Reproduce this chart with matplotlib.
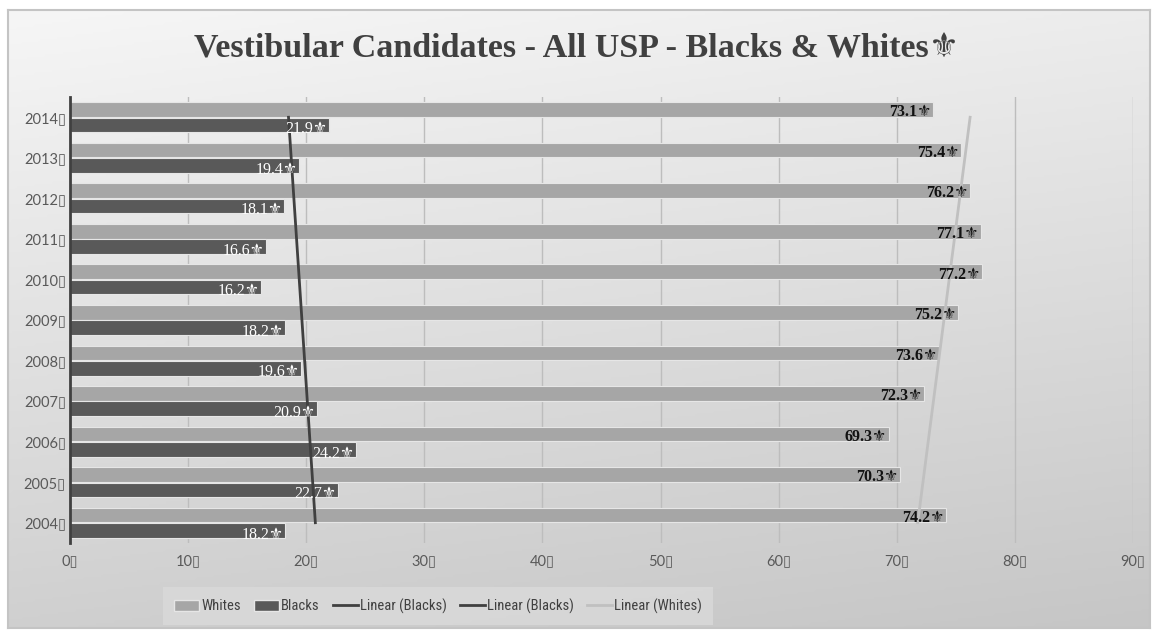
import numpy as np
import matplotlib.pyplot as plt
from matplotlib.colors import LinearSegmentedColormap
from matplotlib.patches import Patch
from matplotlib.lines import Line2D

years = ["2004", "2005", "2006", "2007", "2008", "2009", "2010", "2011", "2012", "2013", "2014"]
whites = [74.2, 70.3, 69.3, 72.3, 73.6, 75.2, 77.2, 77.1, 76.2, 75.4, 73.1]
blacks = [18.2, 22.7, 24.2, 20.9, 19.6, 18.2, 16.2, 16.6, 18.1, 19.4, 21.9]
x_ticks = [0, 10, 20, 30, 40, 50, 60, 70, 80, 90]

BOX = "\u25af"
FLEUR = "\u269c"
SERIF = ["Liberation Serif", "DejaVu Serif", "DejaVu Sans"]
SANS = ["Lato", "DejaVu Sans"]
NARROW = ["Liberation Sans Narrow", "Roboto Condensed", "Liberation Sans"]

W, H = 1153, 635
fig = plt.figure(figsize=(W / 100, H / 100), dpi=100)
fig.patch.set_facecolor("white")

# chart area with a soft grey gradient and thin border
bg = fig.add_axes([8 / W, 1 - 628 / H, 1142 / W, 618 / H])
grad = np.linspace(0, 1, 256).reshape(-1, 1) * 0.8 + np.linspace(0, 1, 256).reshape(1, -1) * 0.2
cmap = LinearSegmentedColormap.from_list("g", ["#f6f6f6", "#c6c6c6"])
bg.imshow(grad, cmap=cmap, aspect="auto", extent=[0, 1, 1, 0], origin="upper")
bg.set_xlim(0, 1)
bg.set_ylim(1, 0)
bg.set_xticks([])
bg.set_yticks([])
for s in bg.spines.values():
    s.set_color("#c4c4c4")
    s.set_linewidth(1.5)

ax = fig.add_axes([70 / W, 1 - 543 / H, 1063 / W, 446 / H])
ax.patch.set_alpha(0)
pos = np.arange(len(years))
off = 0.19
h = 0.36
ax.barh(pos + off, whites, height=h, color="#a6a6a6", edgecolor="#e6e6e6", linewidth=0.8, zorder=2)
ax.barh(pos - off, blacks, height=h, color="#595959", edgecolor="#e6e6e6", linewidth=0.8, zorder=2)

# linear trends over category index
bfit = np.polyfit(pos, blacks, 1)
wfit = np.polyfit(pos, whites, 1)
ends = np.array([pos[0], pos[-1]])
ax.plot(np.polyval(bfit, ends), ends, color="#404040", lw=2, zorder=4)
ax.plot(np.polyval(wfit, ends), ends, color="#c0c0c0", lw=2, zorder=4)

for i in pos:
    ax.annotate(f"{whites[i]}{FLEUR}", (whites[i], i + off), xytext=(-1, -2),
                textcoords="offset points", ha="right", va="center",
                fontsize=11.5, fontweight="bold", color="#111111", family=SERIF, zorder=5)
    ax.annotate(f"{blacks[i]}{FLEUR}", (blacks[i], i - off), xytext=(-1, -3),
                textcoords="offset points", ha="right", va="center",
                fontsize=11.5, color="white", family=SERIF, zorder=5)

ax.set_xlim(0, 90)
ax.set_ylim(-0.5, 10.5)
ax.set_xticks(x_ticks)
ax.set_xticklabels([f"{t}{BOX}" for t in x_ticks], family=SANS, fontsize=10.5, color="#595959")
ax.set_yticks(pos)
ax.set_yticklabels([f"{y}{BOX}" for y in years], family=SANS, fontsize=10.5, color="#595959")
ax.tick_params(length=0, pad=8)
ax.tick_params(axis="y", pad=3)
ax.grid(axis="x", color="#bdbdbd", lw=1, zorder=0)
ax.set_axisbelow(True)
for k in ["top", "right", "bottom"]:
    ax.spines[k].set_visible(False)
ax.spines["left"].set_color("#404040")
ax.spines["left"].set_linewidth(2)
ax.spines["left"].set_zorder(6)

fig.text(0.5, 1 - 49 / H, f"Vestibular Candidates - All USP - Blacks & Whites{FLEUR}",
         ha="center", va="center", fontsize=24.5, fontweight="bold", color="#404040", family=SERIF)

handles = [
    Patch(facecolor="#a6a6a6", edgecolor="#e6e6e6"),
    Patch(facecolor="#595959", edgecolor="#e6e6e6"),
    Line2D([], [], color="#404040", lw=2),
    Line2D([], [], color="#404040", lw=2),
    Line2D([], [], color="#c0c0c0", lw=2),
]
labels = ["Whites", "Blacks", "Linear (Blacks)", "Linear (Blacks)", "Linear (Whites)"]
leg = fig.legend(handles, labels, loc="center", bbox_to_anchor=(438 / W, 1 - 606 / H),
                 ncol=5, frameon=True, fancybox=False,
                 prop={"family": NARROW, "size": 10.5},
                 handlelength=1.7, handleheight=0.8, handletextpad=0.15, columnspacing=0.9,
                 borderpad=0.8, borderaxespad=0)
leg.get_frame().set_facecolor("#dadada")
leg.get_frame().set_edgecolor("none")
leg.get_frame().set_alpha(0.8)
for t in leg.get_texts():
    t.set_color("#404040")

fig.savefig("out.png", dpi=100)
